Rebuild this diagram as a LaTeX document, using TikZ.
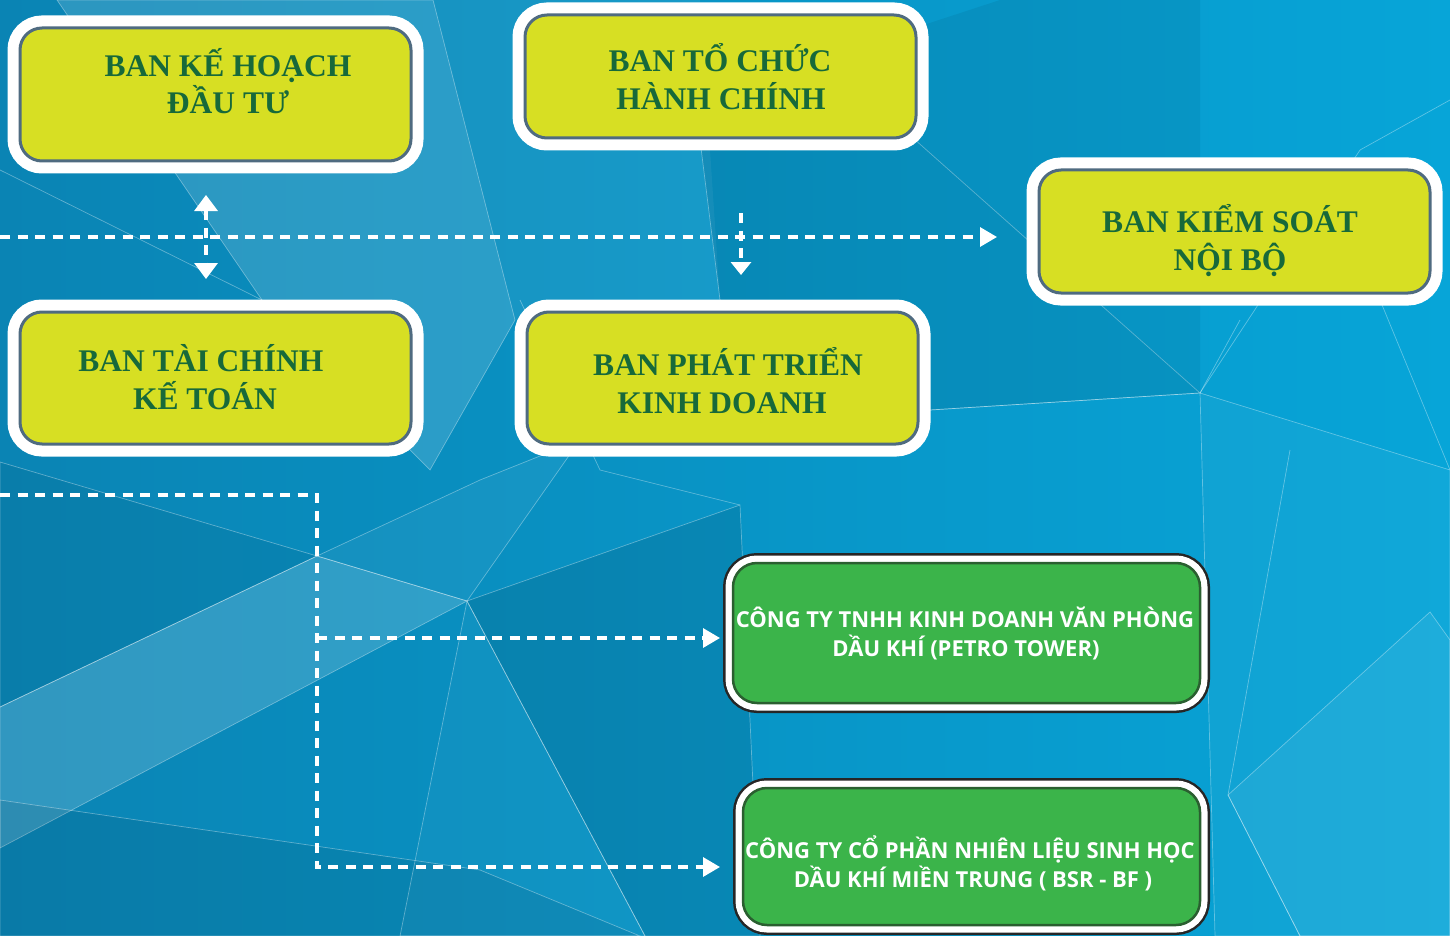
\documentclass[tikz,border=0pt]{standalone}
\usepackage{fontspec}
\setmainfont{Liberation Serif}
\newfontfamily\cosans{Open Sans}
\usetikzlibrary{arrows.meta}
\definecolor{bgA}{HTML}{0A84B4}
\definecolor{bgB}{HTML}{07A5D8}
\definecolor{ylw}{HTML}{D7DF23}
\definecolor{ybord}{HTML}{4F6B80}
\definecolor{gtext}{HTML}{17693A}
\definecolor{grn}{HTML}{3BB44A}
\definecolor{gbord}{HTML}{2A5F30}
\tikzset{
  x=1pt, y=-1pt,
  ybox/.style={draw=ybord, line width=3pt, fill=ylw, rounded corners=22pt,
    inner sep=0pt, preaction={draw=white, line width=25pt}},
  gbox/.style={draw=gbord, line width=2.5pt, fill=grn, rounded corners=24pt,
    inner sep=0pt, preaction={draw=black!85, line width=20pt},
    preaction={draw=white, line width=15pt}},
  ytxt/.style={anchor=base, text=gtext, inner sep=0pt,
    font=\fontsize{31.5}{36}\selectfont\bfseries},
  gtxt/.style={anchor=base, text=white, inner sep=0pt,
    font=\fontsize{22}{26}\selectfont\cosans\bfseries},
  dline/.style={draw=white, line width=3.3pt, dash pattern=on 10pt off 7.5pt},
  tip/.style={-{Triangle[width=19pt,length=17pt]}},
  facet/.style={draw=white, draw opacity=0.35, line width=0.7pt},
}
\begin{document}
\begin{tikzpicture}
\useasboundingbox (0,0) rectangle (1450,936);
% ---------- background ----------
\shade[left color=bgA, right color=bgB] (0,0) rectangle (1450,936);
\fill[white, opacity=0.14, facet] (57,0) -- (433,0) -- (515,320) -- (430,470) -- (262,300) -- cycle;
\fill[white, opacity=0.06] (433,0) -- (700,0) -- (720,300) -- (515,320) -- cycle;
\fill[black, opacity=0.08, facet] (700,140) -- (823,58) -- (1200,393) -- (930,410) -- (720,300) -- cycle;
\fill[black, opacity=0.06] (823,58) -- (1000,0) -- (1200,0) -- (1200,393) -- cycle;
\fill[white, opacity=0.04, facet] (1200,393) -- (1450,470) -- (1450,936) -- (1215,936) -- cycle;
\fill[white, opacity=0.06, facet] (1228,795) -- (1430,612) -- (1450,640) -- (1450,936) -- (1300,936) -- cycle;
\fill[black, opacity=0.05, facet] (0,462) -- (317,556) -- (0,707) -- cycle;
\fill[white, opacity=0.16, facet] (0,707) -- (317,556) -- (467,601) -- (0,848) -- cycle;
\fill[white, opacity=0.05, facet] (317,556) -- (480,480) -- (580,440) -- (467,601) -- cycle;
\fill[black, opacity=0.07, facet] (0,800) -- (480,870) -- (640,936) -- (0,936) -- cycle;
\fill[black, opacity=0.09, facet] (467,601) -- (740,505) -- (760,936) -- (645,936) -- cycle;
\fill[white, opacity=0.03, facet] (467,601) -- (400,936) -- (645,936) -- cycle;
\draw[facet] (0,170) -- (262,300);
\draw[facet] (1200,393) -- (930,410);
\draw[facet] (1200,393) -- (1360,150);
\draw[facet] (1200,393) -- (1240,320);
\draw[facet] (1380,300) -- (1450,470);
\draw[facet] (1228,795) -- (1300,936);
\draw[facet] (1228,795) -- (1290,450);
\draw[facet] (1360,150) -- (1450,100);
\draw[facet] (520,300) -- (600,470) -- (740,505);
% ---------- boxes ----------
\node[ybox, minimum width=391pt, minimum height=133pt] (kh) at (215.5,94.5) {};
\node[ybox, minimum width=391pt, minimum height=123pt] (tc) at (720.5,76.5) {};
\node[ybox, minimum width=391pt, minimum height=123pt] (ks) at (1234.5,231.5) {};
\node[ybox, minimum width=391pt, minimum height=132pt] (tckt) at (215.5,378) {};
\node[ybox, minimum width=391pt, minimum height=132pt] (ptkd) at (722.5,378) {};
\node[gbox, minimum width=467pt, minimum height=140pt] (pt) at (966.5,633) {};
\node[gbox, minimum width=457pt, minimum height=137pt] (bsr) at (971.5,856.5) {};
% ---------- texts ----------
\node[ytxt] (kh1) at (228,77) {BAN KẾ HOẠCH};
\node[ytxt] (kh2) at (228,114) {ĐẦU TƯ};
\node[ytxt] (tc1) at (720,72) {BAN TỔ CHỨC};
\node[ytxt] (tc2) at (721,110) {HÀNH CHÍNH};
\node[ytxt] (ks1) at (1230,232) {BAN KIỂM SOÁT};
\node[ytxt] (ks2) at (1230,270) {NỘI BỘ};
\node[ytxt] (tk1) at (201,371) {BAN TÀI CHÍNH};
\node[ytxt] (tk2) at (205,409) {KẾ TOÁN};
\node[ytxt] (pk1) at (728,375) {BAN PHÁT TRIỂN};
\node[ytxt] (pk2) at (722,413) {KINH DOANH};
\node[gtxt] (pt1) at (965,627) {CÔNG TY TNHH KINH DOANH VĂN PHÒNG};
\node[gtxt] (pt2) at (966,656) {DẦU KHÍ (PETRO TOWER)};
\node[gtxt] (bs1) at (970,858) {CÔNG TY CỔ PHẦN NHIÊN LIỆU SINH HỌC};
\node[gtxt] (bs2) at (973,887) {DẦU KHÍ MIỀN TRUNG ( BSR - BF )};
% ---------- connectors ----------
\coordinate (hL) at (0,237);
\coordinate (hR) at (997,237);
\coordinate (vUp) at (206,195);
\coordinate (vDn) at (206,279);
\coordinate (v2T) at (741,213);
\coordinate (v2B) at (741,275);
\coordinate (bL) at (0,495);
\coordinate (bC) at (317,495);
\coordinate (bM) at (317,638);
\coordinate (bB) at (317,867);
\coordinate (a1) at (720,638);
\coordinate (a2) at (720,867);
\draw[dline, tip] (hL) -- (hR);
\draw[dline, {Triangle[width=23pt,length=16pt]}-{Triangle[width=23pt,length=16pt]}] (vUp) -- (vDn);
\draw[dline, -{Triangle[width=20pt,length=13pt]}] (v2T) -- (v2B);
\draw[dline, tip] (bL) -- (bC) -- (bB) -- (a2);
\draw[dline, tip] (bM) -- (a1);
\end{tikzpicture}
\end{document}
